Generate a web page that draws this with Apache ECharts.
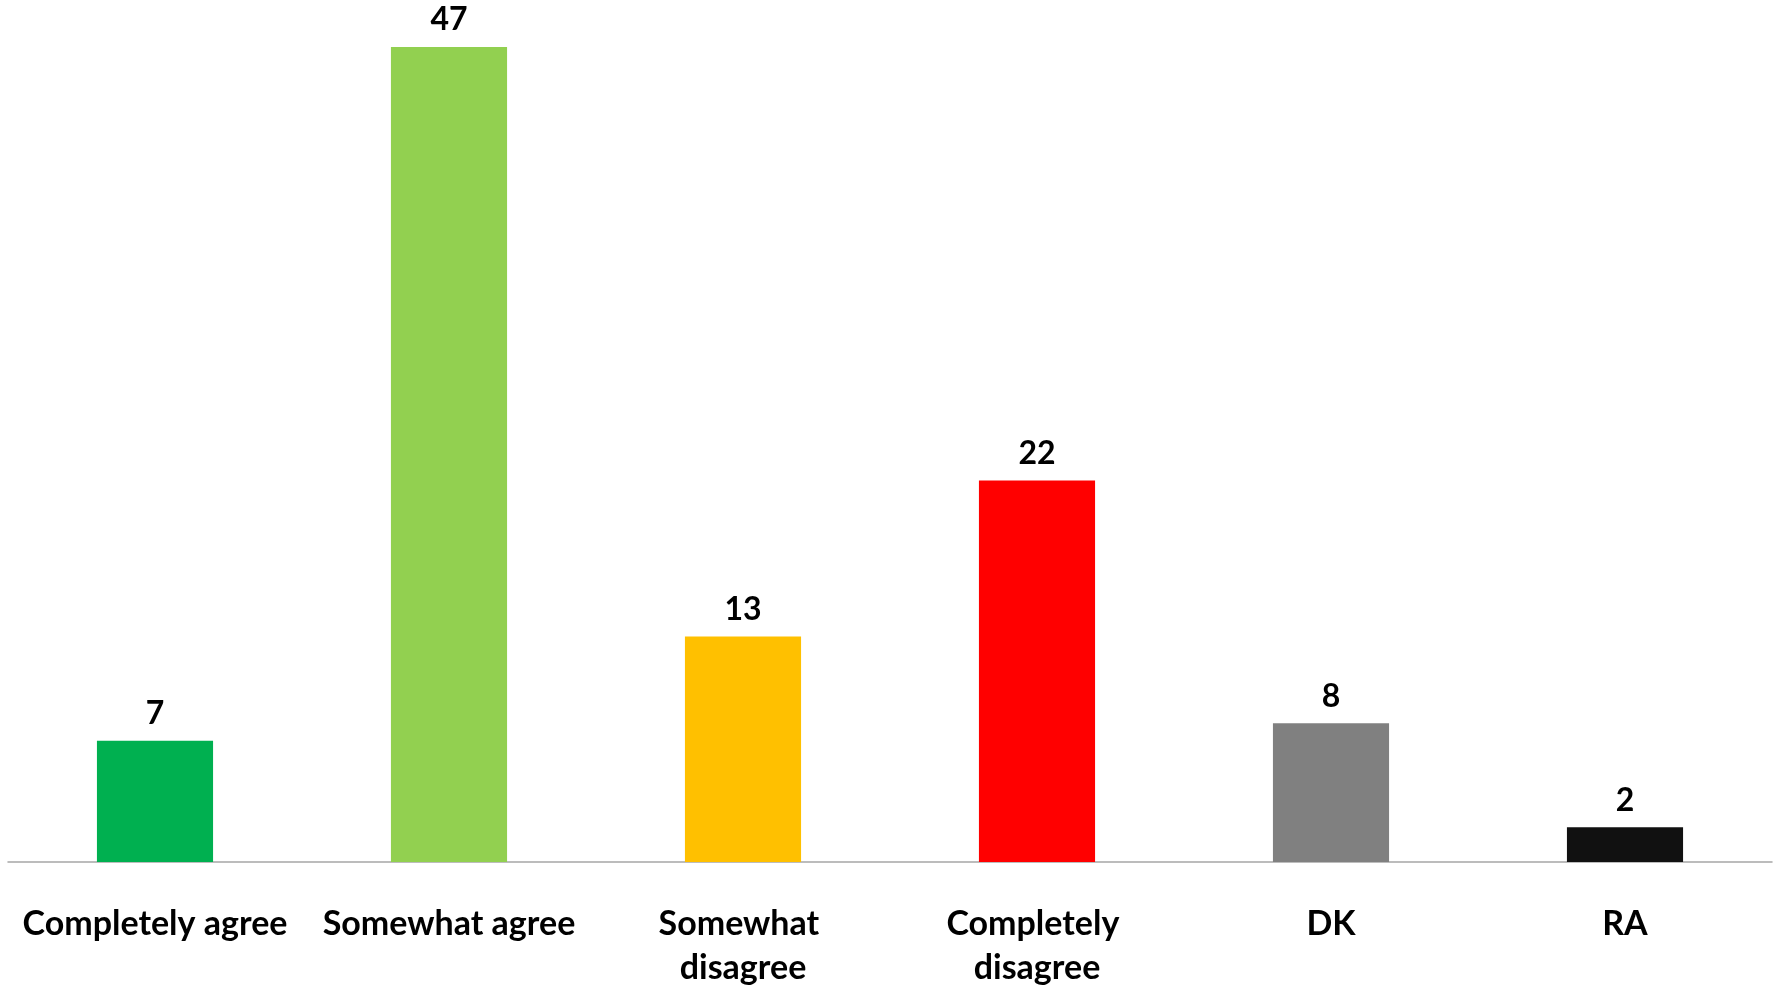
<!DOCTYPE html>
<html>
<head>
<meta charset="utf-8">
<script src="https://cdn.jsdelivr.net/npm/echarts@6/dist/echarts.min.js"></script>
<style>
html,body{margin:0;padding:0;background:#fff;}
#chart{width:1779px;height:990px;}
</style>
</head>
<body>
<div id="chart"></div>
<script>
const categories = ["Completely agree", "Somewhat agree", "Somewhat disagree", "Completely disagree", "DK", "RA"];
const values = [7, 47, 13, 22, 8, 2];
const barColors = ["#00B050", "#92D050", "#FFC000", "#FF0000", "#808080", "#111111"];

const chart = echarts.init(document.getElementById('chart'));
chart.setOption({
  animation: false,
  backgroundColor: '#ffffff',
  grid: { left: 8, right: 7, top: 28, bottom: 123, containLabel: false },
  xAxis: {
    type: 'category',
    data: categories,
    axisLine: { show: true, lineStyle: { color: '#A6A6A6', width: 1.5 } },
    axisTick: { show: false },
    axisLabel: {
      interval: 0,
      margin: 40,
      width: 276,
      overflow: 'break',
      fontFamily: 'Lato',
      fontWeight: 'bold',
      fontSize: 34,
      lineHeight: 44,
      color: '#000000'
    }
  },
  yAxis: {
    type: 'value',
    min: 0,
    max: 48.1,
    show: false,
    splitLine: { show: false }
  },
  series: [{
    type: 'bar',
    barCategoryGap: '60.5%',
    data: values.map((v, i) => ({ value: v, itemStyle: { color: barColors[i] } })),
    label: {
      show: true,
      position: 'top',
      distance: 11,
      fontFamily: 'Lato',
      fontWeight: 'bold',
      fontSize: 32,
      color: '#000000'
    }
  }]
});
</script>
</body>
</html>
